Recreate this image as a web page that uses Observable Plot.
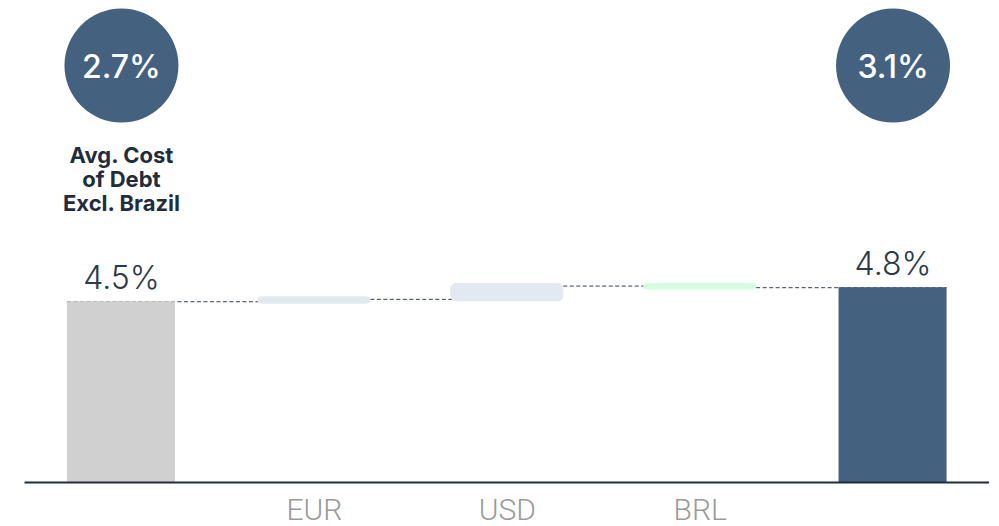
<!DOCTYPE html>
<html><head><meta charset="utf-8">
<script src="https://cdn.jsdelivr.net/npm/d3@7"></script>
<script src="https://cdn.jsdelivr.net/npm/@observablehq/plot@0.6"></script>
<style>body{margin:0;background:#fff}</style>
</head><body><div id="chart"></div>
<script>
const categories = ["start", "EUR", "USD", "BRL", "end"];
const axisLabels = ["", "EUR", "USD", "BRL", ""];
const startValue = 4.5;
const changeCats = ["EUR", "USD", "BRL"];
const changeValues = [0.06, 0.33, -0.04];
const totalLabels = ["4.5%", "4.8%"];
const costLabels = ["2.7%", "3.1%"];
const noteText = "Avg. Cost\nof Debt\nExcl. Brazil";

const navy = "#44617f";
let run = startValue;
const deltas = [];
const connectors = [];
let prev = "start";
changeCats.forEach((c, i) => {
  const y1 = run, y2 = run + changeValues[i];
  connectors.push({from: prev, to: c, v: run});
  deltas.push({cat: c, y1, y2, color: changeValues[i] >= 0 ? "#e3e9f1" : "#d5fde0"});
  run = y2; prev = c;
});
connectors.push({from: prev, to: "end", v: run});
const totals = [
  {cat: "start", v: startValue, label: totalLabels[0], color: "#d0d0d0"},
  {cat: "end", v: run, label: totalLabels[1], color: navy}
];
const circles = [
  {cat: "start", label: costLabels[0]},
  {cat: "end", label: costLabels[1]}
];
const axisData = categories.map((c, i) => ({cat: c, label: axisLabels[i]}));

const chart = Plot.plot({
  width: 999, height: 526,
  marginTop: 0, marginBottom: 44, marginLeft: 24.5, marginRight: 10,
  x: {domain: categories, paddingInner: 0.44, paddingOuter: 0.22, round: false, axis: null},
  y: {domain: [0, 12], axis: null},
  color: {type: "identity"},
  style: {fontFamily: "Inter, sans-serif", background: "white"},
  marks: [
    Plot.ruleY(connectors, {y: "v", x1: "from", x2: "to", stroke: "#34404f", strokeDasharray: "4,2.5", strokeWidth: 1}),
    Plot.barY(totals, {x: "cat", y: "v", fill: "color"}),
    Plot.barY(deltas, {x: "cat", y1: "y1", y2: "y2", fill: "color", stroke: "color", strokeWidth: 5, strokeLinejoin: "round", rx: 3}),
    Plot.ruleY([0], {stroke: "#1f2d3d", strokeWidth: 2}),
    Plot.text(totals, {x: "cat", y: "v", text: "label", dy: -23, fontSize: 32, fontWeight: 300, fill: "#2c3a4a"}),
    Plot.dot(circles, {x: "cat", frameAnchor: "top", dy: 65, r: 57, fill: navy, stroke: null}),
    Plot.text(circles, {x: "cat", frameAnchor: "top", lineAnchor: "middle", dy: 67, text: "label", fill: "white", fontSize: 32, fontWeight: 500}),
    Plot.text([noteText], {x: () => "start", frameAnchor: "top", lineAnchor: "middle", dy: 179, text: d => d, fontSize: 22, fontWeight: 700, lineHeight: 1.08, fill: "#1f2d3d", style: "letter-spacing:-0.9px"}),
    Plot.text(axisData, {x: "cat", y: 0, dy: 28, text: "label", fontSize: 30, fontFamily: "Roboto", fontWeight: 300, fill: "#9a9a9a"})
  ]
});
document.getElementById("chart").appendChild(chart);
</script>
</body></html>
